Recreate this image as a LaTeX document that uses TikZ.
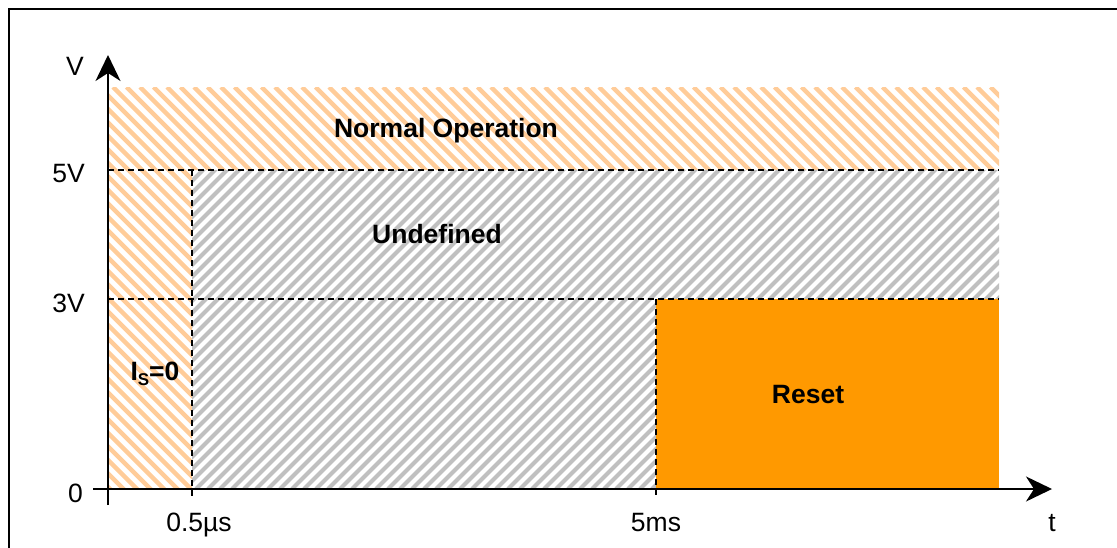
\documentclass[tikz,border=0pt]{standalone}
\usepackage{fontspec}
\setmainfont{Liberation Sans}
\usetikzlibrary{arrows.meta}
\definecolor{hatchorange}{HTML}{FFCC99}
\definecolor{hatchgray}{HTML}{C0C0C0}
\definecolor{resetorange}{HTML}{FF9900}
\tikzset{
  axisline/.style={line width=2pt, draw=black, -{Stealth[length=26pt,width=25pt,inset=8pt]}},
  guide/.style={line width=1.5pt, draw=black, dash pattern=on 6pt off 4pt},
  ohatch/.style={line width=4.5pt, draw=hatchorange},
  ghatch/.style={line width=4pt, draw=hatchgray},
  lbl/.style={font=\fontsize{26.5}{30}\selectfont, inner sep=0pt, anchor=base},
  blbl/.style={font=\fontsize{26.5}{30}\selectfont\bfseries, inner sep=0pt, anchor=base},
}
\begin{document}
\begin{tikzpicture}[x=1pt,y=-1pt]
\useasboundingbox (0,0) rectangle (1117,547);
% frame
\draw[line width=2pt] (9,9) rectangle (1160,590);
% orange hatched region
\begin{scope}
  \clip (108,87) -- (999,87) -- (999,170) -- (192,170) -- (192,489) -- (108,489) -- cycle;
  \foreach \x in {-400,-386.5,...,1000} \draw[ohatch] (\x,87) -- ++(420,420);
\end{scope}
% gray hatched region
\begin{scope}
  \clip (192,170) -- (999,170) -- (999,299) -- (656,299) -- (656,489) -- (192,489) -- cycle;
  \foreach \x in {-140,-128,...,1000} \draw[ghatch] (\x,489) -- ++(330,-330);
\end{scope}
% reset region
\fill[resetorange] (656,299) rectangle (999,489);
% guide lines
\coordinate (g5a) at (108,170); \coordinate (g5b) at (999,170);
\coordinate (g3a) at (108,299); \coordinate (g3b) at (999,299);
\coordinate (v1a) at (192,170); \coordinate (v1b) at (192,497);
\coordinate (v2a) at (656,299); \coordinate (v2b) at (656,497);
\draw[guide] (g5a) -- (g5b);
\draw[guide] (g3a) -- (g3b);
\draw[guide] (v1a) -- (v1b);
\draw[guide] (v2a) -- (v2b);
% axes
\coordinate (ystart) at (108,505); \coordinate (yend) at (108,55);
\coordinate (xstart) at (93,489); \coordinate (xend) at (1052,489);
\draw[axisline] (ystart) -- (yend);
\draw[axisline] (xstart) -- (xend);
% axis labels
\node[lbl, anchor=base east] (lv) at (84,75) {V};
\node[lbl, anchor=base east] (l5v) at (85,182) {5V};
\node[lbl, anchor=base east] (l3v) at (85,312) {3V};
\node[lbl, anchor=base east] (l0) at (83,502) {0};
\node[lbl] (lt1) at (199,531) {0.5µs};
\node[lbl] (lt2) at (656,531) {5ms};
\node[lbl] (lt) at (1052,531) {t};
% region labels
\node[blbl] (normal) at (446,137) {Normal Operation};
\node[blbl] (undef) at (437,243) {Undefined};
\node[blbl] (is0) at (155,380) {I\raisebox{-0.2em}{\fontsize{17}{18}\selectfont S}=0};
\node[blbl] (reset) at (808,403) {Reset};
\end{tikzpicture}
\end{document}
